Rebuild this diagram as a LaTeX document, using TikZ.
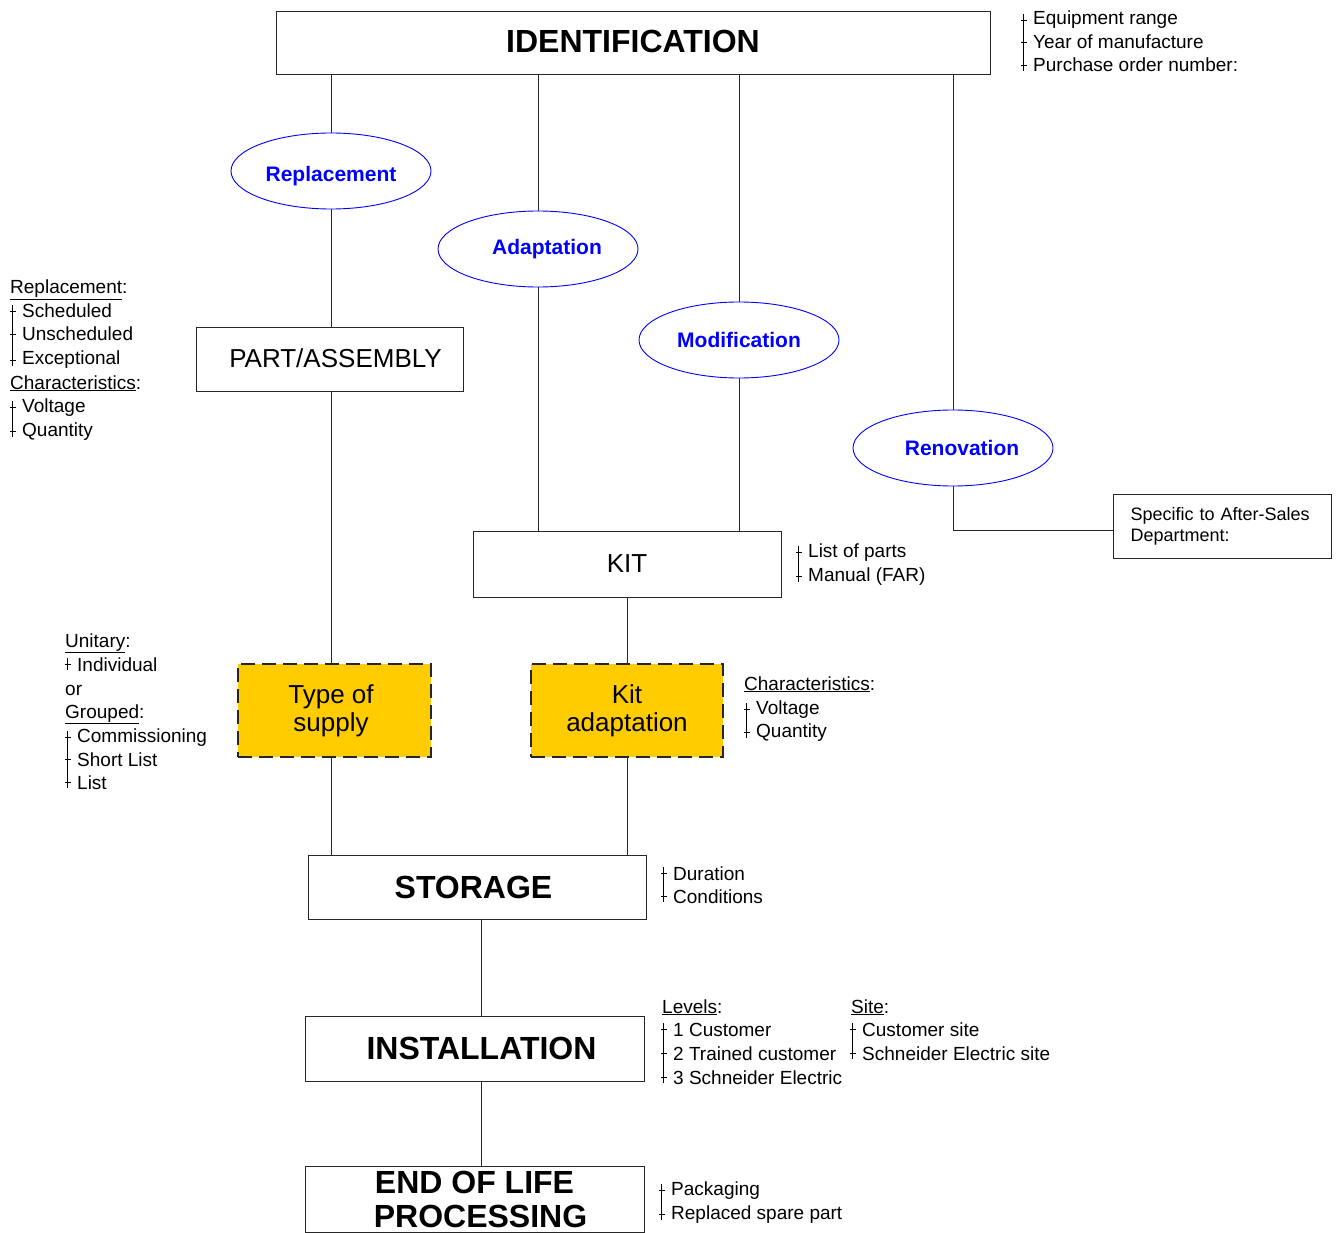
\documentclass[tikz,border=0pt]{standalone}
\usepackage{fontspec}
\setmainfont{Liberation Sans}
\usetikzlibrary{shapes.geometric,calc}
\definecolor{supplyyellow}{HTML}{FFCC00}
\tikzset{
  box/.style={draw=black!85, line width=0.9pt, rectangle, inner sep=0pt, align=center},
  titlebox/.style={box, font=\fontsize{32}{34}\selectfont\bfseries},
  plainbox/.style={box, font=\fontsize{26}{28}\selectfont},
  yellowbox/.style={box, fill=supplyyellow, line width=1.4pt, dash pattern=on 14pt off 7pt, font=\fontsize{26}{28}\selectfont},
  oval/.style={ellipse, draw=blue, line width=0.9pt, inner sep=0pt, minimum width=200pt, minimum height=76pt, font=\fontsize{21}{23}\selectfont\bfseries, text=blue},
  conn/.style={line width=0.9pt, draw=black!85},
  item/.style={anchor=base west, inner sep=0pt, font=\fontsize{19}{22}\selectfont},
  brk/.style={line width=0.7pt},
}
\newcommand\listbar[2]{\draw[brk] ($(#1.west)+(-10,-6)$) -- ($(#2.west)+(-10,6)$);}
\newcommand\listtick[1]{\draw[brk] ($(#1.west)+(-12,0)$) -- ($(#1.west)+(-6,0)$);}
\begin{document}
\begin{tikzpicture}[x=1pt,y=-1pt]
\useasboundingbox (0,0) rectangle (1339,1233);

% main boxes
\node[titlebox, minimum width=714pt, minimum height=63pt] (ident) at (633,42.5) {\raisebox{2pt}{IDENTIFICATION}};
\node[plainbox, minimum width=267pt, minimum height=64pt] (part) at (329.5,359) {\hspace*{12pt}\raisebox{2pt}{PART/ASSEMBLY}};
\node[plainbox, minimum width=308pt, minimum height=66pt] (kit) at (627,564) {KIT};
\node[yellowbox, minimum width=193pt, minimum height=93pt] (tos) at (334.5,710.5) {Type of\hspace*{7pt}\\supply\hspace*{7pt}};
\node[yellowbox, minimum width=192pt, minimum height=93pt] (kitad) at (627,710.5) {Kit\\adaptation};
\node[titlebox, minimum width=338pt, minimum height=64pt] (stor) at (477,887) {STORAGE\hspace*{7pt}};
\node[titlebox, minimum width=339pt, minimum height=65pt] (inst) at (474.5,1048.5) {\hspace*{14pt}INSTALLATION};
\node[titlebox, minimum width=339pt, minimum height=66pt] (eol) at (474.5,1199) {END OF LIFE\\\hspace*{12pt}PROCESSING};
\node[box, minimum width=218pt, minimum height=64pt, text width=197pt, inner xsep=0pt, align=left,
      font=\fontsize{18}{21}\selectfont] (spec) at (1222,526) {\hspace*{7pt}Specific to After-Sales\\\hspace*{7pt}Department:};

% ovals
\node[oval] (rep) at (331,171) {\raisebox{-10.5pt}[0pt][0pt]{Replacement}};
\node[oval] (adap) at (538,249) {\hspace*{18pt}\raisebox{-1pt}{Adaptation}};
\node[oval] (mod) at (739,340) {Modification};
\node[oval] (ren) at (953,448) {\hspace*{18pt}Renovation};

\coordinate (spine) at (481,0);

% connectors
\draw[conn] (rep.north |- ident.south) -- (rep.north);
\draw[conn] (rep.south) -- (rep.south |- part.north);
\draw[conn] (part.south -| rep.south) -- (tos.north -| rep.south);
\draw[conn] (tos.south -| rep.south) -- (stor.north -| rep.south);
\draw[conn] (adap.north |- ident.south) -- (adap.north);
\draw[conn] (adap.south) -- (adap.south |- kit.north);
\draw[conn] (mod.north |- ident.south) -- (mod.north);
\draw[conn] (mod.south) -- (mod.south |- kit.north);
\draw[conn] (ren.north |- ident.south) -- (ren.north);
\draw[conn] (ren.south) |- ([yshift=-4pt]spec.west);
\draw[conn] (kit.south) -- (kitad.north);
\draw[conn] (kitad.south) -- (kitad.south |- stor.north);
\draw[conn] (stor.south -| spine) -- (inst.north -| spine);
\draw[conn] (inst.south -| spine) -- (eol.north -| spine);

% top right list
\node[item] (e1) at (1033,25) {Equipment range};
\node[item] (e2) at (1033,49) {Year of manufacture};
\node[item] (e3) at (1033,72) {Purchase order number:};
\listbar{e1}{e3}\listtick{e1}\listtick{e2}\listtick{e3}

% left list
\node[item] (rh) at (10,294) {\underline{Replacement}:};
\node[item] (r1) at (22,318) {Scheduled};
\node[item] (r2) at (22,341) {Unscheduled};
\node[item] (r3) at (22,365) {Exceptional};
\listbar{r1}{r3}\listtick{r1}\listtick{r2}\listtick{r3}
\node[item] (ch) at (10,389) {\underline{Characteristics}:};
\node[item] (c1) at (22,412) {Voltage};
\node[item] (c2) at (22,436) {Quantity};
\listbar{c1}{c2}\listtick{c1}\listtick{c2}

% unitary / grouped
\node[item] (uh) at (65,647) {\underline{Unitary}:};
\node[item] (u1) at (77,671) {Individual};
\listbar{u1}{u1}\listtick{u1}
\node[item] (uor) at (65,695) {or};
\node[item] (gh) at (65,718) {\underline{Grouped}:};
\node[item] (g1) at (77,742) {Commissioning};
\node[item] (g2) at (77,766) {Short List};
\node[item] (g3) at (77,789) {List};
\listbar{g1}{g3}\listtick{g1}\listtick{g2}\listtick{g3}

% kit list
\node[item] (k1) at (808,557) {List of parts};
\node[item] (k2) at (808,581) {Manual (FAR)};
\listbar{k1}{k2}\listtick{k1}\listtick{k2}

% kit adaptation characteristics
\node[item] (kh) at (744,690) {\underline{Characteristics}:};
\node[item] (ka1) at (756,714) {Voltage};
\node[item] (ka2) at (756,737) {Quantity};
\listbar{ka1}{ka2}\listtick{ka1}\listtick{ka2}

% storage list
\node[item] (s1) at (673,880) {Duration};
\node[item] (s2) at (673,903) {Conditions};
\listbar{s1}{s2}\listtick{s1}\listtick{s2}

% installation lists
\node[item] (lh) at (662,1013) {\underline{Levels}:};
\node[item] (l1) at (673,1036) {1 Customer};
\node[item] (l2) at (673,1060) {2 Trained customer};
\node[item] (l3) at (673,1084) {3 Schneider Electric};
\listbar{l1}{l3}\listtick{l1}\listtick{l2}\listtick{l3}
\node[item] (sh) at (851,1013) {\underline{Site}:};
\node[item] (si1) at (862,1036) {Customer site};
\node[item] (si2) at (862,1060) {Schneider Electric site};
\listbar{si1}{si2}\listtick{si1}\listtick{si2}

% end of life list
\node[item] (p1) at (671,1195) {Packaging};
\node[item] (p2) at (671,1219) {Replaced spare part};
\listbar{p1}{p2}\listtick{p1}\listtick{p2}
\end{tikzpicture}
\end{document}
